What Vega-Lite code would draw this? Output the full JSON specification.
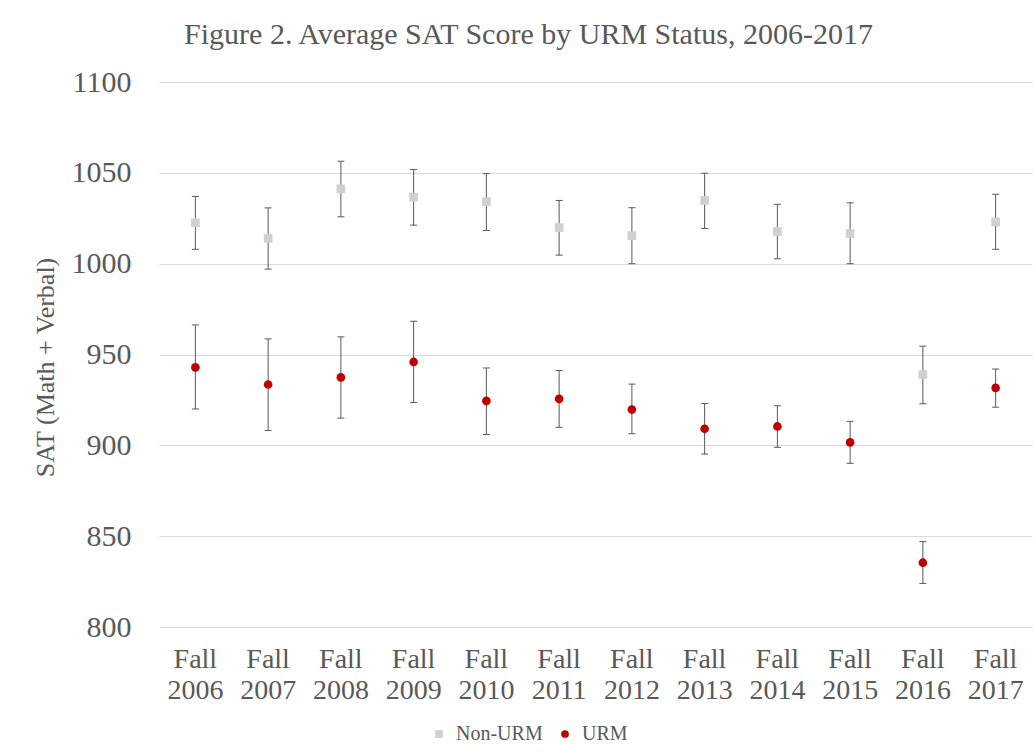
{
  "$schema": "https://vega.github.io/schema/vega-lite/v6.json",
  "width": 873,
  "height": 545,
  "autosize": "none",
  "padding": {"left": 159, "top": 82, "right": 1, "bottom": 129},
  "background": "white",
  "title": {
    "text": "Figure 2. Average SAT Score by URM Status, 2006-2017",
    "frame": "group",
    "anchor": "middle",
    "dx": -67,
    "dy": 43,
    "offset": 36,
    "baseline": "alphabetic",
    "font": "Liberation Serif",
    "fontSize": 30,
    "fontWeight": "normal",
    "color": "#595959"
  },
  "config": {
    "view": {"stroke": null},
    "font": "Liberation Serif"
  },
  "data": {
    "values": [
      {"year": "2006", "group": "Non-URM", "mean": 1022.5, "lo": 1007.9, "hi": 1037.0},
      {"year": "2007", "group": "Non-URM", "mean": 1013.9, "lo": 997.0, "hi": 1030.7},
      {"year": "2008", "group": "Non-URM", "mean": 1041.2, "lo": 1025.8, "hi": 1056.4},
      {"year": "2009", "group": "Non-URM", "mean": 1036.6, "lo": 1021.2, "hi": 1051.8},
      {"year": "2010", "group": "Non-URM", "mean": 1034.1, "lo": 1018.3, "hi": 1049.6},
      {"year": "2011", "group": "Non-URM", "mean": 1019.9, "lo": 1004.7, "hi": 1034.8},
      {"year": "2012", "group": "Non-URM", "mean": 1015.4, "lo": 1000.0, "hi": 1030.8},
      {"year": "2013", "group": "Non-URM", "mean": 1034.8, "lo": 1019.4, "hi": 1049.8},
      {"year": "2014", "group": "Non-URM", "mean": 1017.7, "lo": 1002.7, "hi": 1032.7},
      {"year": "2015", "group": "Non-URM", "mean": 1016.6, "lo": 1000.0, "hi": 1033.5},
      {"year": "2016", "group": "Non-URM", "mean": 939.0, "lo": 922.9, "hi": 954.6},
      {"year": "2017", "group": "Non-URM", "mean": 1023.0, "lo": 1007.9, "hi": 1038.2},
      {"year": "2006", "group": "URM", "mean": 942.9, "lo": 920.0, "hi": 966.3},
      {"year": "2007", "group": "URM", "mean": 933.5, "lo": 908.2, "hi": 958.6},
      {"year": "2008", "group": "URM", "mean": 937.4, "lo": 915.0, "hi": 959.7},
      {"year": "2009", "group": "URM", "mean": 945.9, "lo": 923.6, "hi": 968.3},
      {"year": "2010", "group": "URM", "mean": 924.5, "lo": 906.0, "hi": 942.6},
      {"year": "2011", "group": "URM", "mean": 925.6, "lo": 909.9, "hi": 941.2},
      {"year": "2012", "group": "URM", "mean": 919.7, "lo": 906.4, "hi": 933.7},
      {"year": "2013", "group": "URM", "mean": 909.1, "lo": 895.2, "hi": 923.0},
      {"year": "2014", "group": "URM", "mean": 910.4, "lo": 898.9, "hi": 921.8},
      {"year": "2015", "group": "URM", "mean": 901.6, "lo": 890.1, "hi": 913.2},
      {"year": "2016", "group": "URM", "mean": 835.4, "lo": 824.0, "hi": 847.0},
      {"year": "2017", "group": "URM", "mean": 931.6, "lo": 921.0, "hi": 942.0}
    ]
  },
  "encoding": {
    "x": {
      "field": "year",
      "type": "ordinal",
      "scale": {"paddingInner": 0, "paddingOuter": 0},
      "axis": {
        "title": null,
        "labelAngle": 0,
        "labelExpr": "['Fall', datum.label]",
        "labelFont": "Liberation Serif",
        "labelFontSize": 28,
        "labelLineHeight": 31,
        "labelColor": "#595959",
        "labelPadding": 18,
        "ticks": false,
        "domain": false,
        "grid": false
      }
    }
  },
  "layer": [
    {
      "mark": {"type": "rule", "color": "#595959", "strokeWidth": 1},
      "encoding": {
        "y": {
          "field": "lo",
          "type": "quantitative",
          "scale": {"domain": [800, 1100], "nice": false, "zero": false},
          "axis": {
            "title": "SAT (Math + Verbal)",
            "values": [800, 850, 900, 950, 1000, 1050, 1100],
            "format": "d",
            "labelFont": "Liberation Serif",
            "labelFontSize": 30,
            "labelColor": "#595959",
            "labelPadding": 28,
            "ticks": false,
            "domain": false,
            "gridColor": "#d9d9d9",
            "gridWidth": 1,
            "titleFont": "Liberation Serif",
            "titleFontSize": 26,
            "titleFontWeight": "normal",
            "titleColor": "#595959",
            "titleX": -114,
            "titleY": 285,
            "titleAngle": -90,
            "titleAlign": "center",
            "titleBaseline": "middle"
          }
        },
        "y2": {"field": "hi"}
      }
    },
    {
      "mark": {"type": "tick", "color": "#595959", "thickness": 1, "size": 7, "opacity": 1},
      "encoding": {
        "y": {"field": "lo", "type": "quantitative"}
      }
    },
    {
      "mark": {"type": "tick", "color": "#595959", "thickness": 1, "size": 7, "opacity": 1},
      "encoding": {
        "y": {"field": "hi", "type": "quantitative"}
      }
    },
    {
      "mark": {"type": "point", "filled": true, "opacity": 1, "size": 75},
      "encoding": {
        "y": {"field": "mean", "type": "quantitative"},
        "color": {
          "field": "group",
          "type": "nominal",
          "scale": {"domain": ["Non-URM", "URM"], "range": ["#d0d0d0", "#c00000"]},
          "legend": {
            "title": null,
            "orient": "none",
            "direction": "horizontal",
            "legendX": 270,
            "legendY": 642,
            "labelFont": "Liberation Serif",
            "labelFontSize": 20,
            "labelColor": "#595959",
            "labelOffset": 7,
            "columnPadding": 12,
            "symbolSize": 60
          }
        },
        "shape": {
          "field": "group",
          "type": "nominal",
          "scale": {"domain": ["Non-URM", "URM"], "range": ["square", "circle"]}
        }
      }
    }
  ]
}
